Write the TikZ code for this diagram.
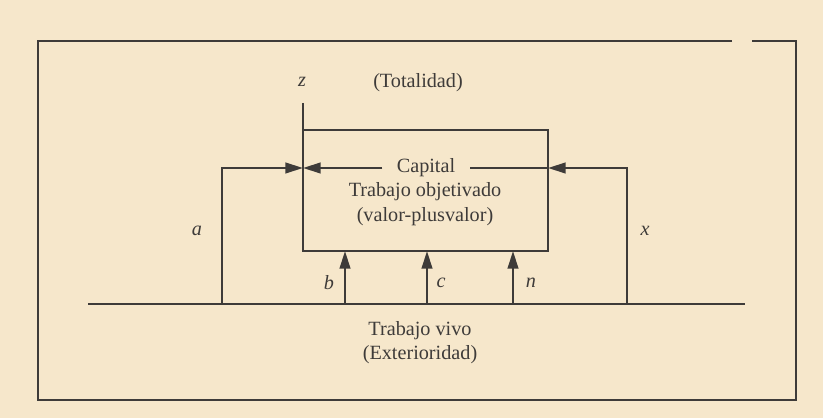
\documentclass[tikz,border=0pt]{standalone}
\usepackage{fontspec}
\setmainfont{Liberation Serif}
\usetikzlibrary{arrows.meta}
\definecolor{paper}{HTML}{F6E7CB}
\definecolor{ink}{HTML}{3E3B39}
\begin{document}
\begin{tikzpicture}[x=0.02cm,y=-0.02cm,
  line/.style={draw=ink,line width=1.3pt},
  tip/.style={-{Triangle[length=10pt,width=6pt]}},
  lbl/.style={text=ink,font=\fontsize{11.5}{13}\selectfont},
  var/.style={text=ink,font=\fontsize{11.5}{13}\selectfont\itshape}]

  % Paper, fixes the size of the page
  \fill[paper] (0,0) rectangle (823,418);

  % Outer frame, open for a moment at the top right
  \draw[line] (732,41) -- (38,41) -- (38,400) -- (796,400) -- (796,41) -- (752,41);

  % Corners of the box and ends of the lines
  \coordinate (zt) at (303,103);
  \coordinate (bnw) at (303,130);
  \coordinate (bne) at (548,130);
  \coordinate (bse) at (548,251);
  \coordinate (bsw) at (303,251);
  \coordinate (gl) at (88,304);
  \coordinate (gr) at (745,304);
  \coordinate (al) at (222,304);
  \coordinate (at) at (222,168);
  \coordinate (xl) at (627,304);
  \coordinate (xt) at (627,168);
  \coordinate (ain) at (303,168);
  \coordinate (xin) at (548,168);

  % Texts
  \node[var] (z) at (302,82) {z};
  \node[lbl] (tot) at (418,83) {(Totalidad)};
  \node[lbl,inner xsep=0.28cm] (cap) at (426,168) {Capital};
  \node[lbl] (obj) at (425,192) {Trabajo objetivado};
  \node[lbl] (val) at (425,217) {(valor-plusvalor)};
  \node[lbl] (viv) at (420,331) {Trabajo vivo};
  \node[lbl] (ext) at (420,355) {(Exterioridad)};
  \node[var] (a) at (197,231) {a};
  \node[var] (x) at (645,231) {x};

  % Ground line and the box
  \draw[line] (gl) -- (gr);
  \draw[line] (zt) -- (bsw) -- (bse) -- (bne) -- (bnw);

  % a and x come round into the box
  \draw[line,tip] (al) -- (at) -- (ain);
  \draw[line,tip] (xl) -- (xt) -- (xin);
  \draw[line] (xin) -- (cap.east);
  \draw[line,tip] (cap.west) -- (ain);

  % b, c, n go up into the box
  \foreach \px/\nm/\lx in {345/b/329,427/c/441,513/n/531} {
    \coordinate (\nm0) at (\px,304);
    \coordinate (\nm1) at (\px,251);
    \draw[line,tip] (\nm0) -- (\nm1);
    \node[var] (\nm) at (\lx,283) {\nm};
  }

\end{tikzpicture}
\end{document}
